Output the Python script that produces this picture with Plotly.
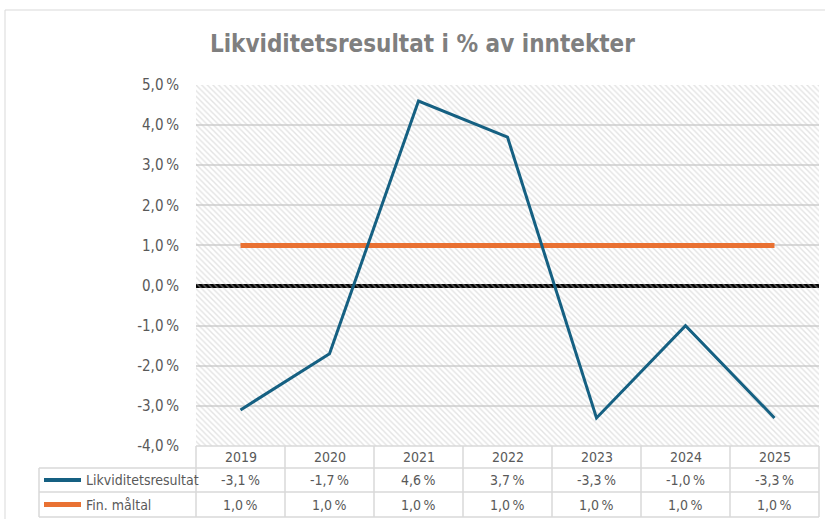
import plotly.graph_objects as go

# ---- data ----
years = ["2019", "2020", "2021", "2022", "2023", "2024", "2025"]
likviditet = [-3.1, -1.7, 4.6, 3.7, -3.3, -1.0, -3.3]
maltal = [1.0, 1.0, 1.0, 1.0, 1.0, 1.0, 1.0]
series_names = ["Likviditetsresultat", "Fin. måltal"]
y_ticks = [-4, -3, -2, -1, 0, 1, 2, 3, 4, 5]
title_text = "Likviditetsresultat i % av inntekter"

def pct(v):
    return f"{v:.1f}".replace(".", ",") + "\u2009%"

y_ticktext = [pct(v) for v in y_ticks]

BLUE = "#156082"
ORANGE = "#E97132"
GRID = "#d9d9d9"
TXT = "#595959"
FONT = "Liberation Sans Narrow, DejaVu Sans Condensed, Arial Narrow, sans-serif"

W, H = 825, 519
L, R, T, B = 196, 6, 85, 73
pw = W - L - R
ph = H - T - B

def px(xp):
    return (xp - L) / pw

def py(yp):
    return (H - B - yp) / ph

fig = go.Figure()

# hatched plot-area background on helper axes
fig.add_trace(go.Scatter(
    x=[0, 1, 1, 0, 0], y=[0, 0, 1, 1, 0], xaxis="x", yaxis="y",
    mode="lines", line=dict(width=0), fill="toself",
    fillcolor="rgba(0,0,0,0)",
    fillpattern=dict(shape="\\", fgcolor="#c8c8c8", bgcolor="rgba(0,0,0,0)",
                     size=4, solidity=0.35),
    hoverinfo="skip", showlegend=False))

fig.add_trace(go.Scatter(
    x=years, y=maltal, xaxis="x2", yaxis="y2", mode="lines",
    name=series_names[1], line=dict(color=ORANGE, width=5), showlegend=False))
fig.add_trace(go.Scatter(
    x=years, y=likviditet, xaxis="x2", yaxis="y2", mode="lines",
    name=series_names[0], line=dict(color=BLUE, width=3), showlegend=False))

shapes = []
annotations = []

# chart border
shapes.append(dict(type="rect", xref="paper", yref="paper",
                   x0=px(5), x1=px(830), y0=py(10), y1=py(530),
                   line=dict(color="#d9d9d9", width=1), fillcolor="rgba(0,0,0,0)"))

# data table
n = len(years)
colw = pw / n
row_tops = [446, 468, 492, 517]
left_label = 39
LINE = dict(color=GRID, width=1.5)
# horizontal lines
shapes.append(dict(type="line", xref="paper", yref="paper", x0=px(L), x1=px(L + pw),
                   y0=py(row_tops[0]), y1=py(row_tops[0]), line=LINE))
for yy in row_tops[1:]:
    shapes.append(dict(type="line", xref="paper", yref="paper", x0=px(left_label), x1=px(L + pw),
                       y0=py(yy), y1=py(yy), line=LINE))
# vertical lines
for i in range(n + 1):
    xx = L + i * colw
    shapes.append(dict(type="line", xref="paper", yref="paper", x0=px(xx), x1=px(xx),
                       y0=py(row_tops[0]), y1=py(row_tops[3]), line=LINE))
shapes.append(dict(type="line", xref="paper", yref="paper", x0=px(left_label), x1=px(left_label),
                   y0=py(row_tops[1]), y1=py(row_tops[3]), line=LINE))

# header years and values
rows = [likviditet, maltal]
tfont = dict(family=FONT, size=14, color=TXT)
for i, yr in enumerate(years):
    cx = px(L + (i + 0.5) * colw)
    annotations.append(dict(x=cx, y=py((row_tops[0] + row_tops[1]) / 2), xref="paper", yref="paper",
                            text=yr, showarrow=False, xanchor="center", yanchor="middle", font=tfont))
    for r, vals in enumerate(rows):
        annotations.append(dict(x=cx, y=py((row_tops[r + 1] + row_tops[r + 2]) / 2),
                                xref="paper", yref="paper", text=pct(vals[i]), showarrow=False,
                                xanchor="center", yanchor="middle", font=tfont))

# legend keys in table
for r, (name, col, w) in enumerate(zip(series_names, [BLUE, ORANGE], [4, 5])):
    yc = py((row_tops[r + 1] + row_tops[r + 2]) / 2)
    shapes.append(dict(type="line", xref="paper", yref="paper", x0=px(44), x1=px(81),
                       y0=yc, y1=yc, line=dict(color=col, width=w)))
    annotations.append(dict(x=px(84), y=yc, xref="paper", yref="paper", text=name,
                            showarrow=False, xanchor="left", yanchor="middle", font=tfont))

fig.update_layout(
    width=W, height=H,
    margin=dict(l=L, r=R, t=T, b=B),
    paper_bgcolor="white", plot_bgcolor="white",
    title=dict(text="<b>" + title_text + "</b>", x=0.512, xanchor="center", y=1 - 44 / H,
               yanchor="middle", font=dict(family=FONT, size=24, color="#7f7f7f")),
    xaxis=dict(range=[0, 1], visible=False, fixedrange=True),
    yaxis=dict(range=[0, 1], visible=False, fixedrange=True),
    xaxis2=dict(overlaying="x", type="category", range=[-0.5, n - 0.5],
                showticklabels=False, showgrid=False, zeroline=False, showline=False, ticks=""),
    yaxis2=dict(overlaying="y", range=[-4, 5], tickvals=y_ticks, ticktext=y_ticktext,
                showgrid=True, gridcolor=GRID, gridwidth=1.5,
                zeroline=True, zerolinecolor="black", zerolinewidth=4,
                showline=False, ticks="", ticklabelstandoff=16,
                tickfont=dict(family=FONT, size=15, color=TXT)),
    shapes=shapes, annotations=annotations,
)

fig.write_html("out.html", config={"displayModeBar": False})
with open("out.html", encoding="utf-8") as f:
    html = f.read()
html = html.replace("<head>", "<head><style>html,body{margin:0;padding:0;overflow:hidden;}</style>", 1)
with open("out.html", "w", encoding="utf-8") as f:
    f.write(html)
